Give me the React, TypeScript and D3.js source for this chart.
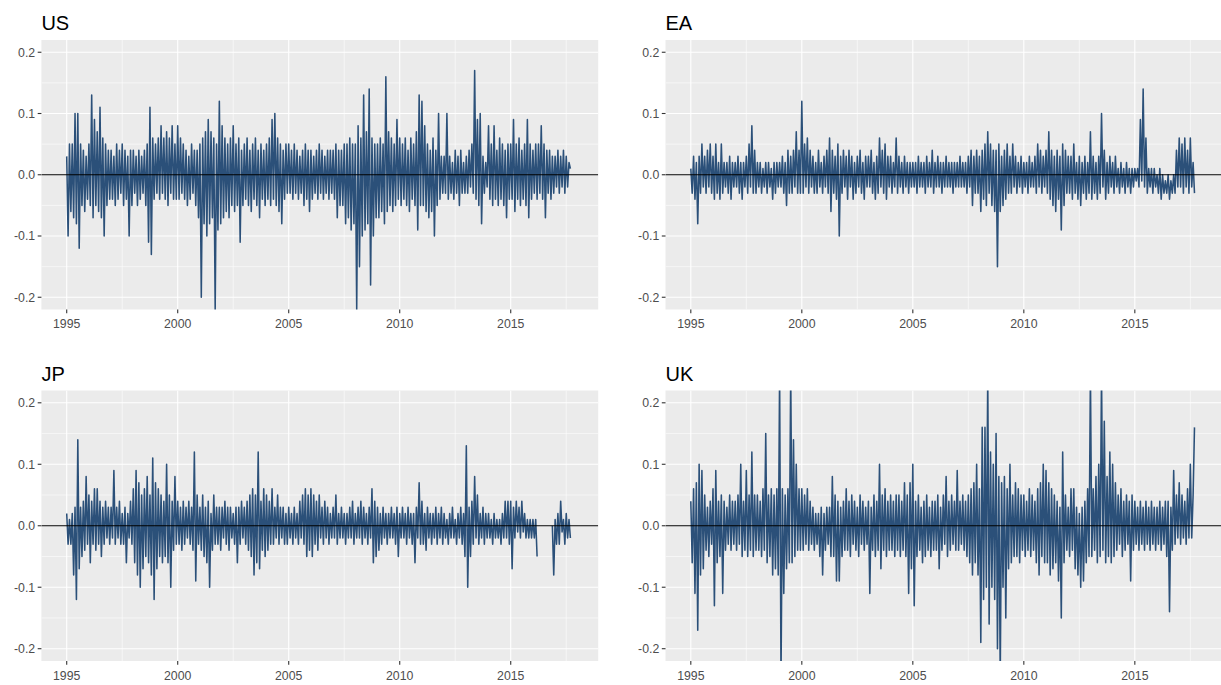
import React from "react";
import * as d3 from "d3";

// Observations start in 1995, one every 1/16 year (values alternate high / low readings).
const START_YEAR = 1995;
const STEP = 1 / 16;

const usValues: (number | null)[] = [
  .03,-.1,.05,-.06,.05,-.07,.1,-.08,.1,-.12,.05,-.05,.04,-.06,.03,-.04,
  .05,-.05,.13,-.07,.09,-.05,.07,-.06,.11,-.07,.06,-.1,.05,-.05,.04,-.04,
  .04,-.04,.03,-.05,.05,-.04,.04,-.03,.05,-.05,.04,-.04,.03,-.1,.04,-.05,
  .04,-.03,.03,-.05,.04,-.04,.03,-.03,.04,-.05,.05,-.11,.11,-.13,.06,-.04,
  .05,-.03,.06,-.04,.08,-.03,.06,-.04,.07,-.05,.06,-.03,.08,-.04,.05,-.04,
  .08,-.04,.06,-.03,.05,-.04,.04,-.05,.03,-.04,.05,-.03,.04,-.05,.04,-.07,
  .05,-.2,.06,-.08,.07,-.1,.09,-.08,.07,-.07,.06,-.22,.05,-.09,.12,-.08,
  .08,-.07,.06,-.06,.05,-.07,.06,-.05,.08,-.06,.05,-.05,.06,-.11,.04,-.05,
  .05,-.04,.06,-.05,.04,-.06,.05,-.04,.06,-.05,.04,-.07,.05,-.04,.04,-.05,
  .05,-.04,.06,-.05,.09,-.04,.1,-.05,.06,-.06,.05,-.08,.04,-.04,.05,-.03,
  .05,-.03,.04,-.04,.05,-.03,.04,-.04,.03,-.03,.04,-.05,.05,-.04,.04,-.06,
  .04,-.04,.03,-.03,.04,-.04,.05,-.03,.04,-.04,.03,-.03,.04,-.04,.04,-.03,
  .04,-.04,.05,-.07,.04,-.05,.04,-.05,.05,-.08,.05,-.07,.06,-.09,.05,-.08,
  .05,-.22,.08,-.15,.06,-.1,.13,-.09,.07,-.08,.14,-.18,.06,-.1,.05,-.07,
  .05,-.07,.06,-.06,.05,-.08,.16,-.06,.07,-.05,.06,-.06,.05,-.05,.09,-.04,
  .06,-.05,.05,-.04,.06,-.05,.04,-.06,.06,-.04,.05,-.05,.07,-.09,.13,-.05,
  .12,-.05,.08,-.06,.05,-.07,.04,-.06,.06,-.1,.04,-.05,.1,-.04,.03,-.03,
  .03,-.03,.1,-.04,.03,-.03,.02,-.04,.04,-.03,.03,-.05,.04,-.03,.02,-.03,
  .03,-.03,.04,-.02,.05,-.03,.17,-.04,.09,-.05,.1,-.08,.03,-.03,.02,-.02,
  .08,-.04,.05,-.05,.08,-.04,.04,-.05,.06,-.04,.05,-.05,.04,-.07,.05,-.04,
  .05,-.04,.09,-.06,.05,-.04,.06,-.05,.04,-.04,.05,-.05,.09,-.07,.05,-.04,
  .04,-.03,.05,-.04,.05,-.03,.08,-.04,.05,-.07,.04,-.03,.04,-.04,.03,-.03,
  .03,-.02,.04,-.03,.03,-.02,.04,-.03,.03,-.02,.02,.01,
];

const eaValues: (number | null)[] = [
  .01,-.03,.03,-.04,.02,-.08,.03,-.03,.05,-.02,.03,-.03,.04,-.02,.05,-.03,
  .03,-.04,.05,-.03,.02,-.04,.05,-.03,.02,-.02,.02,-.03,.03,-.04,.02,-.02,
  .02,-.02,.03,-.03,.02,-.04,.02,-.02,.03,-.03,.05,-.02,.08,-.03,.04,-.03,
  .02,-.02,.02,-.03,.01,-.02,.02,-.03,.02,-.02,.01,-.04,.02,-.03,.02,-.02,
  .02,-.02,.03,-.03,.02,-.05,.04,-.03,.03,-.03,.04,-.02,.07,-.03,.04,-.03,
  .12,-.03,.05,-.02,.06,-.03,.04,-.02,.03,-.03,.02,-.03,.04,-.02,.02,-.03,
  .03,-.02,.04,-.03,.06,-.06,.04,-.03,.03,-.04,.05,-.1,.03,-.03,.04,-.02,
  .03,-.04,.04,-.02,.03,-.04,.02,-.03,.03,-.02,.04,-.03,.02,-.04,.03,-.02,
  .03,-.02,.04,-.03,.02,-.04,.03,-.03,.06,-.02,.04,-.03,.05,-.04,.03,-.02,
  .03,-.03,.02,-.02,.06,-.03,.03,-.02,.02,-.03,.03,-.02,.02,-.03,.02,-.02,
  .02,-.02,.02,-.03,.03,-.02,.02,-.02,.02,-.03,.03,-.02,.02,-.02,.04,-.03,
  .02,-.02,.03,-.02,.02,-.03,.02,-.02,.03,-.02,.02,-.02,.02,-.03,.02,-.02,
  .02,-.02,.03,-.02,.02,-.02,.02,-.03,.03,-.02,.04,-.05,.03,-.03,.04,-.03,
  .03,-.06,.04,-.04,.05,-.05,.07,-.03,.05,-.05,.04,-.06,.04,-.15,.05,-.06,
  .03,-.05,.04,-.04,.05,-.03,.03,-.03,.05,-.02,.03,-.03,.02,-.02,.03,-.03,
  .02,-.02,.02,-.03,.03,-.02,.02,-.02,.03,-.03,.05,-.02,.04,-.03,.03,-.02,
  .04,-.03,.07,-.04,.04,-.05,.03,-.06,.04,-.04,.03,-.09,.05,-.05,.04,-.03,
  .03,-.03,.03,-.04,.05,-.03,.02,-.04,.03,-.05,.02,-.03,.03,-.04,.02,-.03,
  .07,-.04,.03,-.03,.02,-.04,.03,-.03,.1,-.02,.04,-.04,.02,-.03,.03,-.02,
  .02,-.03,.03,-.02,.01,-.03,.02,-.02,.01,-.03,.02,-.02,.01,-.03,.01,-.02,
  .01,-.01,.01,-.02,.09,-.01,.14,-.02,.06,-.03,.01,-.02,.01,-.03,.01,-.02,
  .0,-.03,.01,-.04,.0,-.03,-.01,-.03,.0,-.04,-.01,-.03,.0,-.03,.04,-.02,
  .06,-.02,.05,-.03,.06,-.02,.04,-.03,.06,-.02,.02,-.03,
];

const jpValues: (number | null)[] = [
  .02,-.03,.01,-.03,.02,-.08,.03,-.12,.14,-.07,.03,-.05,.04,-.04,.08,-.03,
  .05,-.06,.04,-.03,.06,-.04,.06,-.03,.04,-.05,.03,-.03,.04,-.02,.03,-.03,
  .03,-.02,.09,-.03,.03,-.02,.04,-.03,.02,-.03,.03,-.06,.02,-.02,.04,-.03,
  .06,-.06,.09,-.08,.07,-.1,.05,-.07,.06,-.05,.08,-.06,.05,-.08,.11,-.12,
  .07,-.07,.06,-.05,.05,-.06,.04,-.05,.1,-.06,.05,-.1,.04,-.04,.08,-.03,
  .04,-.03,.03,-.04,.04,-.03,.03,-.02,.04,-.03,.03,-.04,.12,-.09,.05,-.03,
  .03,-.04,.05,-.05,.03,-.06,.04,-.1,.02,-.04,.05,-.03,.03,-.03,.03,-.04,
  .03,-.02,.04,-.03,.03,-.04,.03,-.02,.02,-.03,.03,-.06,.03,-.03,.04,-.02,
  .03,-.03,.04,-.04,.05,-.05,.06,-.08,.05,-.06,.12,-.07,.04,-.04,.06,-.05,
  .05,-.04,.04,-.03,.06,-.03,.03,-.02,.05,-.03,.03,-.02,.03,-.03,.02,-.03,
  .03,-.02,.02,-.03,.03,-.02,.02,-.03,.04,-.02,.05,-.03,.06,-.05,.05,-.04,
  .06,-.05,.05,-.03,.04,-.04,.05,-.02,.03,-.03,.04,-.02,.03,-.03,.02,-.02,
  .03,-.02,.05,-.03,.02,-.02,.03,-.02,.02,-.03,.02,-.02,.03,-.02,.04,-.03,
  .02,-.02,.03,-.02,.04,-.03,.03,-.02,.02,-.03,.03,-.02,.06,-.06,.04,-.05,
  .03,-.04,.02,-.03,.03,-.02,.02,-.03,.02,-.02,.03,-.02,.02,-.03,.03,-.05,
  .02,-.02,.03,-.02,.02,-.03,.03,-.02,.02,-.03,.02,-.06,.03,-.02,.07,-.03,
  .04,-.03,.02,-.04,.03,-.02,.02,-.03,.02,-.02,.03,-.03,.02,-.02,.03,-.03,
  .02,-.02,.01,-.03,.02,-.02,.03,-.02,.01,-.03,.02,-.02,.03,-.03,.02,-.05,
  .13,-.1,.03,-.05,.04,-.03,.08,-.02,.05,-.03,.02,-.02,.03,-.03,.02,-.02,
  .02,-.02,.01,-.03,.02,-.02,.01,-.02,.01,-.03,.02,-.02,.04,-.02,.04,-.03,
  .04,-.07,.03,-.02,.04,-.01,.03,-.02,.04,-.01,.02,-.02,.01,-.02,.01,-.02,
  .01,-.02,.01,-.05,null,null,null,null,null,null,null,null,null,null,.0,-.08,
  .01,-.03,.02,-.03,.04,-.01,.01,-.03,.02,-.02,.01,-.02,
];

const ukValues: (number | null)[] = [
  .04,-.06,.06,-.11,.07,-.17,.1,-.08,.09,-.07,.05,-.04,.03,-.05,.04,-.03,
  .06,-.13,.09,-.06,.04,-.05,.05,-.11,.04,-.04,.03,-.03,.05,-.04,.04,-.03,
  .04,-.04,.05,-.03,.1,-.05,.04,-.04,.09,-.05,.05,-.04,.12,-.05,.05,-.04,
  .05,-.04,.04,-.05,.06,-.04,.15,-.06,.05,-.05,.06,-.08,.05,-.07,.06,-.08,
  .25,-.25,.06,-.11,.05,-.07,.06,-.06,.25,-.06,.14,-.05,.1,-.04,.06,-.04,
  .06,-.04,.05,-.03,.06,-.04,.04,-.03,.03,-.04,.02,-.03,.02,-.05,.03,-.08,
  .02,-.04,.03,-.03,.03,-.05,.08,-.05,.05,-.09,.04,-.09,.03,-.05,.04,-.04,
  .06,-.04,.04,-.05,.05,-.03,.04,-.04,.03,-.05,.05,-.03,.04,-.04,.03,-.03,
  .04,-.11,.03,-.04,.05,-.05,.04,-.04,.1,-.07,.05,-.04,.06,-.05,.04,-.04,
  .05,-.04,.04,-.05,.05,-.04,.05,-.05,.04,-.04,.07,-.05,.05,-.11,.07,-.07,
  .1,-.13,.04,-.05,.05,-.04,.03,-.06,.04,-.05,.05,-.04,.03,-.05,.04,-.04,
  .04,-.04,.05,-.07,.03,-.04,.05,-.03,.08,-.05,.04,-.04,.05,-.03,.04,-.04,
  .09,-.04,.04,-.03,.05,-.04,.04,-.05,.05,-.06,.06,-.08,.07,-.06,.1,-.08,
  .06,-.19,.16,-.12,.16,-.1,.25,-.16,.12,-.1,.1,-.12,.15,-.2,.08,-.25,
  .07,-.1,.08,-.15,.06,-.07,.1,-.06,.05,-.05,.07,-.05,.06,-.06,.05,-.04,
  .05,-.05,.04,-.04,.06,-.05,.05,-.04,.04,-.06,.06,-.08,.07,-.05,.1,-.06,
  .09,-.06,.07,-.08,.06,-.07,.05,-.06,.04,-.09,.03,-.15,.12,-.06,.05,-.04,
  .03,-.05,.06,-.04,.06,-.07,.03,-.08,.02,-.1,.03,-.09,.04,-.06,.06,-.05,
  .25,-.05,.06,-.04,.08,-.06,.1,-.05,.25,-.04,.17,-.06,.08,-.05,.12,-.06,
  .1,-.05,.07,-.04,.05,-.03,.06,-.05,.04,-.04,.05,-.03,.04,-.09,.05,-.04,
  .04,-.03,.03,-.04,.04,-.03,.03,-.04,.04,-.03,.03,-.04,.04,-.03,.03,-.04,
  .03,-.03,.04,-.04,.03,-.03,.04,-.05,.04,-.14,.03,-.04,.09,-.03,.05,-.02,
  .07,-.03,.05,-.02,.04,-.03,.06,-.02,.1,-.02,.05,.16,
];

const panelTitles = ["US", "EA", "JP", "UK"];
const panelSeries = [usValues, eaValues, jpValues, ukValues];

const yTickValues = [-0.2, -0.1, 0, 0.1, 0.2];
const yTickLabels = ["-0.2", "-0.1", "0.0", "0.1", "0.2"];
const yMinorValues = [-0.15, -0.05, 0.05, 0.15];
const xTickValues = [1995, 2000, 2005, 2010, 2015];
const xTickLabels = ["1995", "2000", "2005", "2010", "2015"];
const xMinorValues = [1997.5, 2002.5, 2007.5, 2012.5, 2017.5];

const W = 1221;
const H = 685;
const colX: [number, number][] = [
  [41.4, 598.2],
  [665.5, 1222.3],
];
const rowY: [number, number][] = [
  [40, 309.5],
  [390.5, 661],
];
const X_DOMAIN: [number, number] = [1993.86, 2018.94];
const Y_DOMAIN: [number, number] = [-0.22, 0.22];

const LINE_COLOR = "#2B5079";
const FONT = "'Liberation Sans', Arial, Helvetica, sans-serif";

function Panel({ idx }: { idx: number }) {
  const col = idx % 2;
  const row = Math.floor(idx / 2);
  const [x0, x1] = colX[col];
  const [y0, y1] = rowY[row];
  const x = d3.scaleLinear().domain(X_DOMAIN).range([x0, x1]);
  const y = d3.scaleLinear().domain(Y_DOMAIN).range([y1, y0]);
  const values = panelSeries[idx];
  const pts = values.map((v, i) => ({ t: START_YEAR + i * STEP, v }));
  const line = d3
    .line<{ t: number; v: number | null }>()
    .defined((d) => d.v !== null)
    .x((d) => x(d.t))
    .y((d) => y(d.v as number));
  const clipId = `clip-${idx}`;
  const tick = 3.7;
  return (
    <g>
      <defs>
        <clipPath id={clipId}>
          <rect x={x0} y={y0} width={x1 - x0} height={y1 - y0} />
        </clipPath>
      </defs>
      <rect x={x0} y={y0} width={x1 - x0} height={y1 - y0} fill="#EBEBEB" />
      <g clipPath={`url(#${clipId})`}>
        {yMinorValues.map((v) => (
          <line key={"ym" + v} x1={x0} x2={x1} y1={y(v)} y2={y(v)} stroke="#FFFFFF" strokeWidth={0.55} />
        ))}
        {xMinorValues.map((v) => (
          <line key={"xm" + v} x1={x(v)} x2={x(v)} y1={y0} y2={y1} stroke="#FFFFFF" strokeWidth={0.55} />
        ))}
        {yTickValues.map((v) => (
          <line key={"yM" + v} x1={x0} x2={x1} y1={y(v)} y2={y(v)} stroke="#FFFFFF" strokeWidth={1.1} />
        ))}
        {xTickValues.map((v) => (
          <line key={"xM" + v} x1={x(v)} x2={x(v)} y1={y0} y2={y1} stroke="#FFFFFF" strokeWidth={1.1} />
        ))}
        <path d={line(pts) || ""} fill="none" stroke={LINE_COLOR} strokeWidth={1.55} strokeLinejoin="round" />
        <line x1={x0} x2={x1} y1={y(0)} y2={y(0)} stroke="#000000" strokeWidth={1.1} />
      </g>
      {yTickValues.map((v, i) => (
        <g key={"yt" + v}>
          <line x1={x0 - tick} x2={x0} y1={y(v)} y2={y(v)} stroke="#333333" strokeWidth={1.1} />
          <text
            x={x0 - tick - 2.5}
            y={y(v)}
            dy="0.36em"
            textAnchor="end"
            fontSize={12.3}
            fill="#4D4D4D"
            fontFamily={FONT}
          >
            {yTickLabels[i]}
          </text>
        </g>
      ))}
      {xTickValues.map((v, i) => (
        <g key={"xt" + v}>
          <line x1={x(v)} x2={x(v)} y1={y1} y2={y1 + tick} stroke="#333333" strokeWidth={1.1} />
          <text
            x={x(v)}
            y={y1 + 18.5}
            textAnchor="middle"
            fontSize={12.3}
            fill="#4D4D4D"
            fontFamily={FONT}
          >
            {xTickLabels[i]}
          </text>
        </g>
      ))}
      <text x={x0} y={y0 - 10} fontSize={20} fill="#000000" fontFamily={FONT}>
        {panelTitles[idx]}
      </text>
    </g>
  );
}

export default function App() {
  return (
    <svg
      width={W}
      height={H}
      viewBox={`0 0 ${W} ${H}`}
      style={{ position: "absolute", left: 0, top: 0, background: "#FFFFFF" }}
    >
      <rect x={0} y={0} width={W} height={H} fill="#FFFFFF" />
      {[0, 1, 2, 3].map((i) => (
        <Panel key={i} idx={i} />
      ))}
    </svg>
  );
}
